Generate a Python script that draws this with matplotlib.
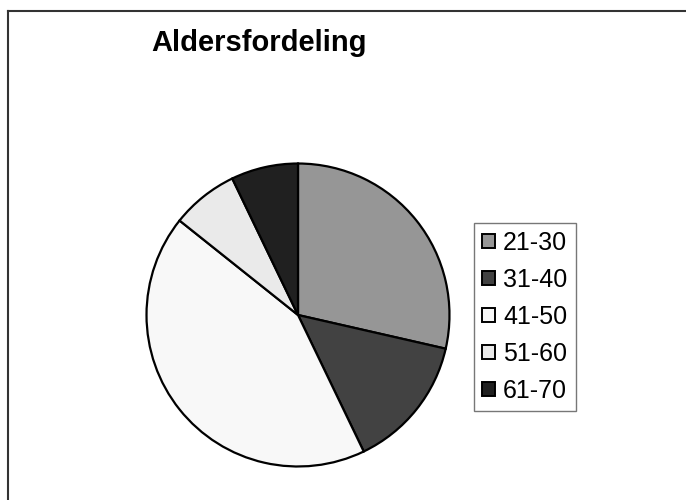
import matplotlib
matplotlib.use("Agg")
import matplotlib.pyplot as plt
from matplotlib.patches import Patch
from matplotlib.lines import Line2D

plt.rcParams['font.family'] = ['Liberation Sans', 'DejaVu Sans']

# antall personer per aldersgruppe
labels = ['21-30', '31-40', '41-50', '51-60', '61-70']
counts = [4, 2, 6, 1, 1]
colors = ['#969696', '#424242', '#f8f8f8', '#eaeaea', '#202020']

W, H = 686, 500
fig = plt.figure(figsize=(W / 100, H / 100), dpi=100)

# ramme rundt diagrammet (topp og venstre)
fig.add_artist(Line2D([7.5 / W, 1.0], [1 - 10.5 / H, 1 - 10.5 / H],
                      transform=fig.transFigure, color='#333333', lw=1.5))
fig.add_artist(Line2D([7.5 / W, 7.5 / W], [1 - 10.5 / H, 0.0],
                      transform=fig.transFigure, color='#333333', lw=1.5))

# kakediagram
cx, cy, r = 298, 315, 153
ax = fig.add_axes([(cx - r) / W, (H - cy - r) / H, 2 * r / W, 2 * r / H])
ax.pie(counts, colors=colors, startangle=90, counterclock=False,
       wedgeprops=dict(edgecolor='black', linewidth=1.6))
ax.set_xlim(-1.01, 1.01)
ax.set_ylim(-1.01, 1.01)
ax.axis('off')

fig.text(259 / W, 1 - 51 / H, 'Aldersfordeling', fontsize=21,
         fontweight='bold', ha='center', va='baseline')

handles = [Patch(facecolor=c, edgecolor='black', linewidth=1.4) for c in colors]
leg = fig.legend(handles, labels, loc='upper left',
                 bbox_to_anchor=(474 / W, 1 - 223 / H),
                 fontsize=18, handlelength=0.5, handleheight=0.5,
                 handletextpad=0.35, labelspacing=0.52, borderpad=0.32,
                 borderaxespad=0, fancybox=False, frameon=True)
leg.get_frame().set_edgecolor('#555555')
leg.get_frame().set_linewidth(1.0)

fig.savefig('out.png', dpi=100)
